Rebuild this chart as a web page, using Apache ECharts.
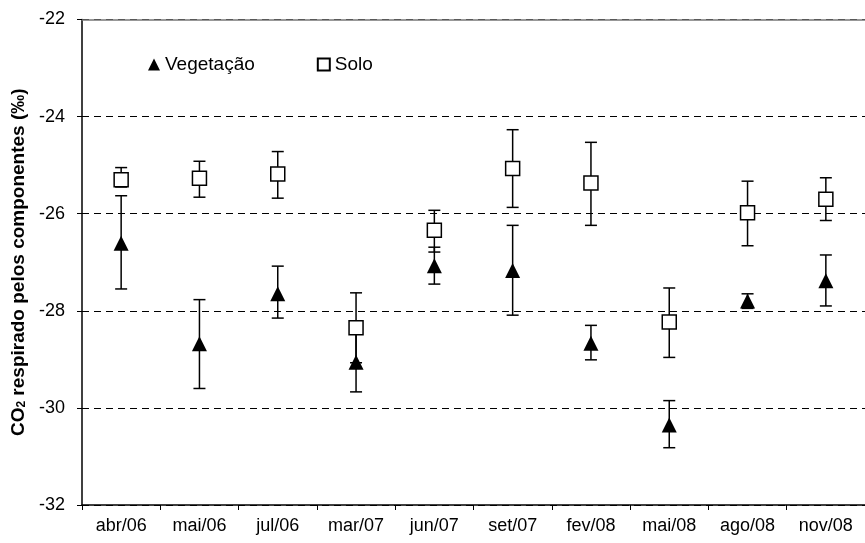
<!DOCTYPE html>
<html>
<head>
<meta charset="utf-8">
<script src="https://cdn.jsdelivr.net/npm/echarts@6/dist/echarts.min.js"></script>
<style>
  html, body { margin: 0; padding: 0; background: #fff; }
  #chart { width: 865px; height: 543px; }
</style>
</head>
<body>
<div id="chart"></div>
<script>
// Sampling campaigns
const categories = ['abr/06', 'mai/06', 'jul/06', 'mar/07', 'jun/07', 'set/07', 'fev/08', 'mai/08', 'ago/08', 'nov/08'];

// Vegetação: mean and error-bar limits (‰)
const vegMean = [-26.61, -28.68, -27.65, -29.06, -27.07, -27.17, -28.67, -30.35, -27.80, -27.38];
const vegLow  = [-27.55, -29.60, -28.15, -29.67, -27.45, -28.09, -29.01, -30.82, -27.95, -27.90];
const vegHigh = [-25.63, -27.77, -27.08, -28.45, -26.69, -26.24, -28.30, -29.85, -27.65, -26.85];

// Solo: mean and error-bar limits (‰)
const soloMean = [-25.30, -25.27, -25.18, -28.35, -26.34, -25.07, -25.37, -28.23, -25.98, -25.70];
const soloLow  = [-25.45, -25.66, -25.68, -29.07, -26.79, -25.87, -26.24, -28.96, -26.66, -26.14];
const soloHigh = [-25.05, -24.92, -24.72, -27.63, -25.93, -24.27, -24.53, -27.53, -25.33, -25.26];

// Y axis range and ticks
const yMin = -32, yMax = -22, yStep = 2;

const FONT = '"Liberation Sans", Arial, sans-serif';

function errorData(low, high) {
  return categories.map((c, i) => [i, low[i], high[i]]);
}

// Vertical error bar with horizontal caps at both ends
function renderError(params, api) {
  const x = api.value(0);
  const lo = api.coord([x, api.value(1)]);
  const hi = api.coord([x, api.value(2)]);
  const half = 6;
  const style = { stroke: '#000', lineWidth: 1.5, fill: null };
  return {
    type: 'group',
    children: [
      { type: 'line', shape: { x1: hi[0], y1: hi[1], x2: lo[0], y2: lo[1] }, style },
      { type: 'line', shape: { x1: hi[0] - half, y1: hi[1], x2: hi[0] + half, y2: hi[1] }, style },
      { type: 'line', shape: { x1: lo[0] - half, y1: lo[1], x2: lo[0] + half, y2: lo[1] }, style }
    ]
  };
}

const chart = echarts.init(document.getElementById('chart'), null, { renderer: 'canvas' });

chart.setOption({
  animation: false,
  backgroundColor: '#fff',
  grid: { left: 82, top: 19.5, width: 790, height: 485.5, containLabel: false },
  legend: {
    data: ['Vegetação', 'Solo'],
    left: 143,
    top: 50,
    itemWidth: 12,
    itemHeight: 12,
    itemGap: 62,
    textStyle: { fontFamily: FONT, fontSize: 19, color: '#000' }
  },
  xAxis: [
    {
      type: 'category',
      data: categories,
      position: 'bottom',
      axisLine: { lineStyle: { color: '#000', width: 1.5 } },
      axisTick: { show: true, length: 5, lineStyle: { color: '#000', width: 1 } },
      axisLabel: { color: '#000', fontFamily: FONT, fontSize: 18, margin: 12 },
      splitLine: { show: false }
    },
    {
      type: 'category',
      data: categories,
      position: 'top',
      axisLine: { lineStyle: { color: '#777', width: 1.5 } },
      axisTick: { show: false },
      axisLabel: { show: false },
      splitLine: { show: false }
    }
  ],
  yAxis: {
    type: 'value',
    min: yMin,
    max: yMax,
    interval: yStep,
    axisLine: { show: true, lineStyle: { color: '#000', width: 1.5 } },
    axisTick: { show: true, length: 5, lineStyle: { color: '#000', width: 1 } },
    axisLabel: { color: '#000', fontFamily: FONT, fontSize: 18, margin: 17 },
    splitLine: { show: true, lineStyle: { color: '#000', width: 1, type: [7, 5] } },
    name: 'CO{sub|2} respirado pelos componentes (‰)',
    nameLocation: 'middle',
    nameGap: 51,
    nameRotate: 90,
    nameTextStyle: {
      fontFamily: FONT, fontSize: 19, fontWeight: 'bold', color: '#000',
      rich: {
        sub: { fontFamily: FONT, fontSize: 12, fontWeight: 'bold', color: '#000', verticalAlign: 'bottom', padding: [7, 0, 0, 0] }
      }
    }
  },
  series: [
    {
      name: 'vegError',
      type: 'custom',
      renderItem: renderError,
      data: errorData(vegLow, vegHigh),
      encode: { x: 0, y: [1, 2] },
      z: 2,
      silent: true
    },
    {
      name: 'Vegetação',
      type: 'scatter',
      data: vegMean.map((v, i) => [i, v]),
      symbol: 'triangle',
      symbolSize: [15, 15],
      itemStyle: { color: '#000', opacity: 1 },
      z: 3
    },
    {
      name: 'soloError',
      type: 'custom',
      renderItem: renderError,
      data: errorData(soloLow, soloHigh),
      encode: { x: 0, y: [1, 2] },
      z: 4,
      silent: true
    },
    {
      name: 'Solo',
      type: 'scatter',
      data: soloMean.map((v, i) => [i, v]),
      symbol: 'rect',
      symbolSize: 14,
      itemStyle: { color: '#fff', borderColor: '#000', borderWidth: 1.5, opacity: 1 },
      z: 5
    }
  ]
});
</script>
</body>
</html>
